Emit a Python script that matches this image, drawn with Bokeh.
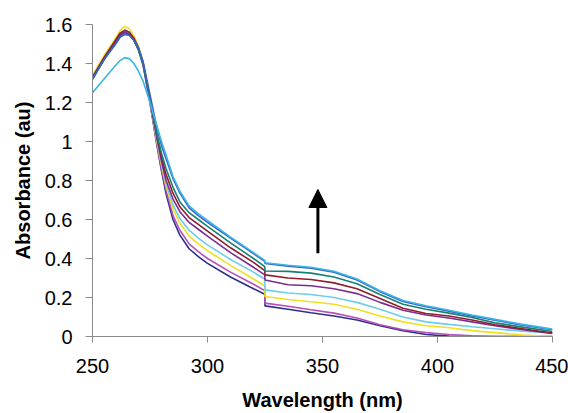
from bokeh.plotting import figure
from bokeh.models import Range1d, FixedTicker, Arrow, NormalHead
from bokeh.embed import file_html
from bokeh.resources import INLINE

wavelength = [250, 255, 260, 262, 264, 266, 268, 270, 272, 275, 278, 280, 282, 285, 288, 292, 296, 300,
              310, 320, 324.9, 325, 335, 345, 355, 365, 375, 385, 395, 405, 415, 425, 437, 450]

navy = [1.33, 1.42, 1.51, 1.545, 1.56, 1.55, 1.52, 1.47, 1.39, 1.20, 0.98, 0.85, 0.73, 0.60, 0.52, 0.45, 0.41, 0.375,
        0.305, 0.245, 0.217, 0.157, 0.14, 0.122, 0.105, 0.085, 0.055, 0.03, 0.01, 0.002, 0.0, 0.0, 0.0, 0.0]
magenta = [1.33, 1.43, 1.52, 1.555, 1.57, 1.56, 1.53, 1.48, 1.40, 1.20, 0.99, 0.86, 0.75, 0.62, 0.545, 0.475, 0.435, 0.40,
           0.33, 0.268, 0.235, 0.171, 0.155, 0.137, 0.12, 0.095, 0.06, 0.035, 0.02, 0.01, 0.004, 0.0, 0.0, 0.0]
yellow = [1.34, 1.44, 1.53, 1.57, 1.59, 1.58, 1.54, 1.49, 1.41, 1.21, 1.00, 0.88, 0.77, 0.655, 0.58, 0.515, 0.475, 0.44,
          0.365, 0.295, 0.259, 0.205, 0.19, 0.178, 0.165, 0.14, 0.105, 0.075, 0.055, 0.045, 0.03, 0.02, 0.008, 0.0]
cyan = [1.33, 1.43, 1.52, 1.555, 1.57, 1.56, 1.53, 1.48, 1.40, 1.21, 1.01, 0.89, 0.785, 0.675, 0.605, 0.545, 0.505, 0.47,
        0.395, 0.33, 0.295, 0.239, 0.223, 0.215, 0.20, 0.175, 0.14, 0.1, 0.075, 0.062, 0.05, 0.04, 0.027, 0.018]
purple = [1.32, 1.42, 1.51, 1.545, 1.56, 1.55, 1.52, 1.47, 1.40, 1.21, 1.02, 0.90, 0.80, 0.705, 0.64, 0.585, 0.55, 0.515,
          0.43, 0.355, 0.316, 0.29, 0.265, 0.26, 0.245, 0.22, 0.175, 0.135, 0.11, 0.095, 0.075, 0.055, 0.035, 0.015]
maroon = [1.33, 1.43, 1.52, 1.555, 1.57, 1.56, 1.53, 1.48, 1.40, 1.22, 1.03, 0.92, 0.83, 0.735, 0.665, 0.61, 0.575, 0.54,
          0.455, 0.38, 0.338, 0.316, 0.30, 0.292, 0.275, 0.245, 0.195, 0.145, 0.118, 0.105, 0.085, 0.06, 0.04, 0.018]
teal = [1.32, 1.42, 1.50, 1.535, 1.55, 1.545, 1.52, 1.47, 1.40, 1.22, 1.04, 0.94, 0.86, 0.765, 0.69, 0.635, 0.60, 0.565,
        0.48, 0.40, 0.358, 0.336, 0.334, 0.325, 0.305, 0.27, 0.215, 0.165, 0.14, 0.12, 0.097, 0.07, 0.048, 0.026]
blue = [1.32, 1.42, 1.50, 1.535, 1.55, 1.545, 1.52, 1.48, 1.41, 1.24, 1.07, 0.98, 0.91, 0.81, 0.735, 0.66, 0.62, 0.585,
        0.505, 0.425, 0.385, 0.375, 0.36, 0.35, 0.33, 0.29, 0.23, 0.18, 0.153, 0.13, 0.105, 0.083, 0.058, 0.035]
skyblue = [1.25, 1.32, 1.39, 1.415, 1.43, 1.425, 1.40, 1.36, 1.31, 1.20, 1.08, 1.00, 0.93, 0.82, 0.745, 0.67, 0.63, 0.595,
           0.51, 0.43, 0.39, 0.378, 0.365, 0.355, 0.335, 0.295, 0.235, 0.185, 0.158, 0.135, 0.11, 0.088, 0.062, 0.038]

series = [navy, magenta, yellow, cyan, purple, maroon, teal, blue, skyblue]
colors = ["#2E2E8E", "#B452B8", "#F0E020", "#6ECDED", "#7E2C8E", "#8E1E2E", "#168272", "#3A62C8", "#3AB6E6"]

x_ticks = [250, 300, 350, 400, 450]
y_ticks = [0, 0.2, 0.4, 0.6, 0.8, 1.0, 1.2, 1.4, 1.6]
y_tick_labels = ["0", "0.2", "0.4", "0.6", "0.8", "1", "1.2", "1.4", "1.6"]

arrow_x = 348
arrow_start = 0.427
arrow_end = 0.754

p = figure(width=568, height=413, output_backend="svg", toolbar_location=None,
           x_range=Range1d(250, 450), y_range=Range1d(0, 1.6))
p.min_border_left = 92
p.min_border_right = 16
p.min_border_top = 24
p.min_border_bottom = 76
p.outline_line_color = None
p.grid.visible = False
p.background_fill_color = "white"
p.border_fill_color = "white"

for ys, c in zip(series, colors):
    p.line(wavelength, ys, line_color=c, line_width=1.6)

p.add_layout(Arrow(end=NormalHead(size=18, fill_color="black", line_color="black"),
                   x_start=arrow_x, y_start=arrow_start, x_end=arrow_x, y_end=arrow_end,
                   line_color="black", line_width=3))

font = "Liberation Sans"
xa = p.xaxis[0]
xa.ticker = FixedTicker(ticks=x_ticks)
xa.axis_line_color = "#8A8A8A"
xa.major_tick_line_color = "#8A8A8A"
xa.major_tick_out = 6
xa.major_tick_in = 0
xa.minor_tick_line_color = None
xa.major_label_text_font = font
xa.major_label_text_font_size = "20px"
xa.major_label_text_color = "black"
xa.major_label_standoff = 16
xa.axis_label = "Wavelength (nm)"
xa.axis_label_text_font = font
xa.axis_label_text_font_size = "20px"
xa.axis_label_text_font_style = "bold"
xa.axis_label_text_color = "black"
xa.axis_label_standoff = 13

ya = p.yaxis[0]
ya.ticker = FixedTicker(ticks=y_ticks)
ya.major_label_overrides = {t: l for t, l in zip(y_ticks, y_tick_labels)}
ya.axis_line_color = "#8A8A8A"
ya.major_tick_line_color = "#8A8A8A"
ya.major_tick_out = 7
ya.major_tick_in = 0
ya.minor_tick_line_color = None
ya.major_label_text_font = font
ya.major_label_text_font_size = "20px"
ya.major_label_text_color = "black"
ya.major_label_standoff = 13
ya.axis_label = "Absorbance (au)"
ya.axis_label_text_font = font
ya.axis_label_text_font_size = "20px"
ya.axis_label_text_font_style = "bold"
ya.axis_label_text_color = "black"
ya.axis_label_standoff = 8

open("out.html", "w").write(file_html(p, INLINE))
